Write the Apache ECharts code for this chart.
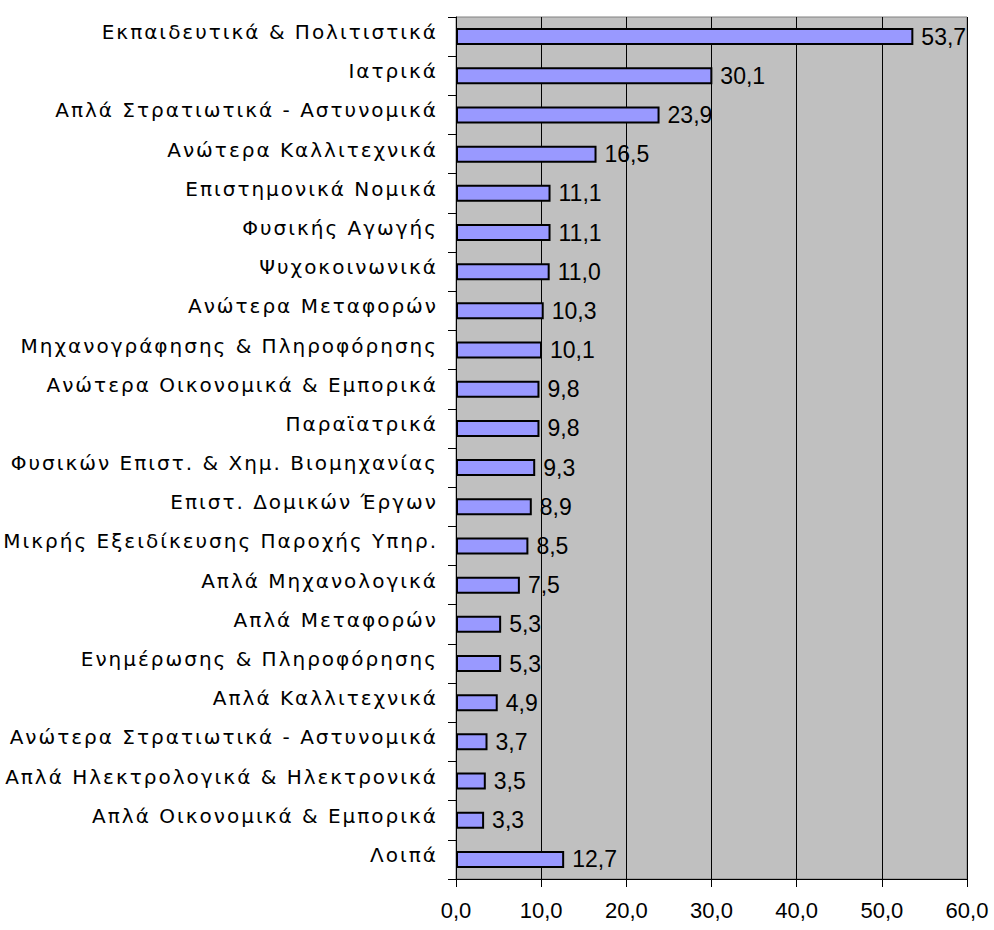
<!DOCTYPE html>
<html>
<head>
<meta charset="utf-8">
<script src="https://cdn.jsdelivr.net/npm/echarts@6/dist/echarts.min.js"></script>
<style>
  html, body { margin: 0; padding: 0; background: #fff; }
  #chart { width: 994px; height: 930px; }
  /* the original category labels are set wide */
  #chart text[style*="DejaVu"] { letter-spacing: 2px; }
</style>
</head>
<body>
<div id="chart"></div>
<script>
// κατηγορίες από πάνω προς τα κάτω
var categories = [
  'Εκπαιδευτικά & Πολιτιστικά',
  'Ιατρικά',
  'Απλά Στρατιωτικά - Αστυνομικά',
  'Ανώτερα Καλλιτεχνικά',
  'Επιστημονικά Νομικά',
  'Φυσικής Αγωγής',
  'Ψυχοκοινωνικά',
  'Ανώτερα Μεταφορών',
  'Μηχανογράφησης & Πληροφόρησης',
  'Ανώτερα Οικονομικά & Εμπορικά',
  'Παραϊατρικά',
  'Φυσικών Επιστ. & Χημ. Βιομηχανίας',
  'Επιστ. Δομικών Έργων',
  'Μικρής Εξειδίκευσης Παροχής Υπηρ.',
  'Απλά Μηχανολογικά',
  'Απλά Μεταφορών',
  'Ενημέρωσης & Πληροφόρησης',
  'Απλά Καλλιτεχνικά',
  'Ανώτερα Στρατιωτικά - Αστυνομικά',
  'Απλά Ηλεκτρολογικά & Ηλεκτρονικά',
  'Απλά Οικονομικά & Εμπορικά',
  'Λοιπά'
]
var values = [53.7, 30.1, 23.9, 16.5, 11.1, 11.1, 11.0, 10.3, 10.1, 9.8, 9.8, 9.3, 8.9, 8.5, 7.5, 5.3, 5.3, 4.9, 3.7, 3.5, 3.3, 12.7]
var xTicks = { min: 0, max: 60, interval: 10 }

function comma (v) {
  return v.toFixed(1).replace('.', ',')
}

var chart = echarts.init(document.getElementById('chart'), null, { renderer: 'svg' })
var option = {
  animation: false,
  textStyle: { fontFamily: 'Liberation Sans, Arial, sans-serif' },
  grid: {
    left: 456,
    right: 27,
    top: 17,
    bottom: 51,
    show: true,
    backgroundColor: '#c0c0c0',
    borderColor: '#808080',
    borderWidth: 1
  },
  xAxis: {
    type: 'value',
    min: xTicks.min,
    max: xTicks.max,
    interval: xTicks.interval,
    axisLine: { show: true, lineStyle: { color: '#000', width: 1 } },
    axisTick: { show: true, length: 8, lineStyle: { color: '#000' } },
    axisLabel: {
      color: '#000',
      fontSize: 22,
      margin: 20,
      fontFamily: 'Liberation Sans',
      formatter: function (v) { return comma(v) }
    },
    splitLine: { show: true, lineStyle: { color: '#000', width: 1 } }
  },
  yAxis: {
    type: 'category',
    inverse: true,
    data: categories,
    axisLine: { show: true, lineStyle: { color: '#000', width: 1 } },
    axisTick: { show: true, length: 8, lineStyle: { color: '#000' } },
    axisLabel: {
      color: '#000',
      fontSize: 20,
      fontFamily: 'DejaVu Sans',
      margin: 18,
      verticalAlign: 'bottom',
      lineHeight: 9
    }
  },
  series: [
    {
      type: 'bar',
      data: values,
      barWidth: 17,
      itemStyle: { color: '#9999ff', borderColor: '#000', borderWidth: 2 },
      label: {
        show: true,
        position: 'right',
        distance: 8,
        color: '#000',
        fontSize: 23,
        fontFamily: 'Liberation Sans',
        formatter: function (p) { return comma(p.value) }
      }
    }
  ]
}
chart.setOption(option)
</script>
</body>
</html>
